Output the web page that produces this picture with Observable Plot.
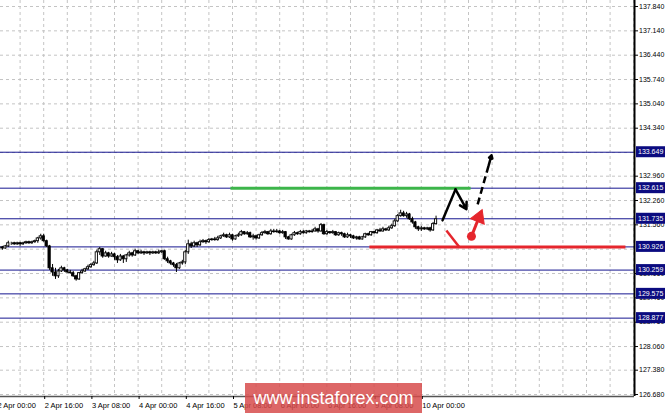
<!DOCTYPE html>
<html><head><meta charset="utf-8">
<script src="https://cdn.jsdelivr.net/npm/d3@7"></script>
<script src="https://cdn.jsdelivr.net/npm/@observablehq/plot@0.6"></script>
<style>
html,body{margin:0;padding:0;background:#fff;}
#wrap{position:relative;width:665px;height:413px;overflow:hidden;background:#fff;}
#wrap svg{position:absolute;left:0;top:0;}
#wm{position:absolute;left:245px;top:383px;width:177px;height:30px;background:rgba(214,74,74,0.84);color:#fff;font:18px "Liberation Sans",Arial,sans-serif;line-height:30px;text-align:center;}
</style></head><body><div id="wrap"><div id="wm">www.instaforex.com</div></div>
<script>
// ---- data (USD/JPY H1, trading-hour index from 2 Apr 00:00) ----
const firstBar = 2;
const opens = [130.91,130.88,130.94,131.03,131.03,131.00,131.03,131.00,131.03,131.06,131.03,131.06,131.09,131.17,131.23,131.09,130.94,130.31,130.19,130.08,130.22,130.31,130.25,130.19,130.17,130.08,129.99,130.17,130.22,130.28,130.34,130.40,130.45,130.77,130.86,130.65,130.74,130.65,130.71,130.63,130.54,130.65,130.57,130.68,130.74,130.68,130.80,130.74,130.77,130.74,130.77,130.74,130.77,130.74,130.77,130.80,130.57,130.51,130.45,130.40,130.31,130.45,130.48,130.77,131.00,130.94,131.03,130.97,131.06,131.09,131.06,131.12,131.14,131.12,131.17,131.23,131.26,131.20,131.26,131.14,131.23,131.26,131.35,131.29,131.32,131.20,131.23,131.17,131.26,131.32,131.35,131.29,131.37,131.35,131.37,131.32,131.35,131.20,131.14,131.26,131.32,131.29,131.35,131.32,131.37,131.35,131.37,131.43,131.37,131.55,131.29,131.35,131.32,131.35,131.26,131.32,131.29,131.20,131.26,131.23,131.17,131.20,131.14,131.20,131.29,131.26,131.35,131.32,131.40,131.37,131.43,131.40,131.46,131.52,131.66,131.81,131.89,131.81,131.86,131.72,131.63,131.49,131.43,131.46,131.43,131.46,131.40,131.58];
const highs = [130.94,130.97,131.09,131.06,131.06,131.06,131.06,131.06,131.09,131.09,131.09,131.12,131.20,131.29,131.29,131.12,130.97,130.42,130.31,130.28,130.37,130.34,130.28,130.25,130.22,130.11,130.19,130.28,130.31,130.40,130.45,130.51,130.83,130.91,130.88,130.80,130.77,130.77,130.74,130.68,130.71,130.68,130.71,130.80,130.77,130.86,130.83,130.83,130.80,130.80,130.80,130.80,130.80,130.83,130.83,130.83,130.63,130.54,130.48,130.45,130.48,130.54,130.83,131.12,131.06,131.09,131.06,131.12,131.14,131.12,131.17,131.17,131.20,131.23,131.26,131.32,131.29,131.32,131.29,131.26,131.32,131.40,131.37,131.37,131.35,131.29,131.26,131.29,131.37,131.40,131.37,131.43,131.43,131.43,131.40,131.40,131.37,131.23,131.29,131.37,131.35,131.40,131.40,131.40,131.40,131.43,131.49,131.46,131.60,131.58,131.40,131.37,131.40,131.37,131.35,131.35,131.32,131.32,131.29,131.26,131.23,131.23,131.23,131.32,131.32,131.37,131.37,131.43,131.46,131.49,131.46,131.52,131.58,131.72,131.86,131.98,131.95,131.92,131.89,131.78,131.66,131.52,131.52,131.49,131.49,131.49,131.63,131.81];
const lows = [130.83,130.86,130.91,130.97,130.97,130.97,130.94,130.97,131.00,131.00,131.00,131.03,131.03,131.12,131.06,130.91,130.25,130.08,129.99,130.02,130.19,130.19,130.17,130.14,130.05,129.94,129.96,130.14,130.19,130.25,130.31,130.37,130.42,130.68,130.60,130.63,130.60,130.63,130.54,130.45,130.51,130.45,130.48,130.63,130.63,130.65,130.71,130.71,130.68,130.71,130.68,130.71,130.71,130.71,130.74,130.54,130.45,130.40,130.34,130.19,130.28,130.40,130.42,130.71,130.88,130.91,130.91,130.94,131.03,131.00,131.03,131.09,131.09,131.09,131.14,131.20,131.17,131.17,131.09,131.12,131.20,131.23,131.26,131.26,131.17,131.12,131.12,131.14,131.23,131.29,131.26,131.26,131.32,131.32,131.29,131.29,131.14,131.12,131.12,131.23,131.26,131.26,131.29,131.29,131.32,131.32,131.35,131.32,131.35,131.26,131.26,131.29,131.29,131.23,131.23,131.23,131.17,131.17,131.17,131.14,131.12,131.12,131.12,131.17,131.23,131.23,131.29,131.29,131.35,131.35,131.37,131.37,131.43,131.49,131.63,131.78,131.78,131.75,131.69,131.58,131.43,131.37,131.37,131.40,131.40,131.35,131.37,131.55];
const closes = [130.88,130.94,131.03,131.03,131.00,131.03,131.00,131.03,131.06,131.03,131.06,131.09,131.17,131.23,131.09,130.94,130.31,130.19,130.08,130.22,130.31,130.25,130.19,130.17,130.08,129.99,130.17,130.22,130.28,130.34,130.40,130.45,130.77,130.86,130.65,130.74,130.65,130.71,130.63,130.54,130.65,130.57,130.68,130.74,130.68,130.80,130.74,130.77,130.74,130.77,130.74,130.77,130.74,130.77,130.80,130.57,130.51,130.45,130.40,130.31,130.45,130.48,130.77,131.00,130.94,131.03,130.97,131.06,131.09,131.06,131.12,131.14,131.12,131.17,131.23,131.26,131.20,131.26,131.14,131.23,131.26,131.35,131.29,131.32,131.20,131.23,131.17,131.26,131.32,131.35,131.29,131.37,131.35,131.37,131.32,131.35,131.20,131.14,131.26,131.32,131.29,131.35,131.32,131.37,131.35,131.37,131.43,131.37,131.55,131.29,131.35,131.32,131.35,131.26,131.32,131.29,131.20,131.26,131.23,131.17,131.20,131.14,131.20,131.29,131.26,131.35,131.32,131.40,131.37,131.43,131.40,131.46,131.52,131.66,131.81,131.89,131.81,131.86,131.72,131.63,131.49,131.43,131.46,131.43,131.46,131.40,131.58,131.72];

const xTickHours  = [0,16,32,48,64,80,96,112,128,144];
const xTickLabels = ["2 Apr 00:00","2 Apr 16:00","3 Apr 08:00","4 Apr 00:00","4 Apr 16:00","5 Apr 08:00","6 Apr 00:00","6 Apr 16:00","9 Apr 08:00","10 Apr 00:00"];
const xGridHours  = [0,8,16,24,32,40,48,56,64,72,80,88,96,104,112,120,128,136,144,152,160,168,176,184,192,200,208,216];
const yGridValues = [137.840,137.140,136.440,135.740,135.040,134.340,133.640,132.960,132.260,131.560,130.860,130.160,129.460,128.760,128.060,127.380,126.680];
const yTickLabels = [137.840,137.140,136.440,135.740,135.040,134.340,132.960,132.260,131.560,130.160,129.460,128.760,128.060,127.380,126.680];
const levels      = [133.649,132.615,131.735,130.926,130.259,129.575,128.877];
const resistanceLevel = 132.615, resistanceFrom = 79.3, resistanceTo = 160.7;
const supportLevel = 130.926, supportFrom = 126.4, supportTo = 213.2;
// forecast sketch (hour index, price)
const upPath      = [{h:151.2,p:131.69},{h:155.6,p:132.58},{h:159.3,p:132.01}];
const dashedUp    = [{h:163.1,p:132.15},{h:167.8,p:133.56}];
const redStroke   = [{h:152.5,p:131.40},{h:157.0,p:130.91}];
const redDot      = {h:161.0,p:131.23};
const redArrowTip = {h:164.1,p:131.89};

const xDomain = [1.356, 216.27];
const yDomain = [126.623, 138.013];

const bars = opens.map((o,k)=>({h:firstBar+k, open:o, high:highs[k], low:lows[k], close:closes[k]}));
const labelByHour = new Map(xTickHours.map((h,i)=>[h,xTickLabels[i]]));
const font = "'Liberation Sans', Arial, sans-serif";
const navy = "#161690";
const lerp = (a,b,t)=>({h:a.h+(b.h-a.h)*t, p:a.p+(b.p-a.p)*t});
const dashMid = lerp(dashedUp[0], dashedUp[1], 0.8);
const redShaftEnd = lerp(redDot, redArrowTip, 0.7);
const redHead = lerp(redDot, redArrowTip, 0.82);

const svg = Plot.plot({
  width: 665, height: 413,
  marginTop: 0, marginLeft: 0, marginRight: 31, marginBottom: 17,
  style: {background: "transparent", fontFamily: font, overflow: "visible"},
  x: {domain: xDomain, axis: null},
  y: {domain: yDomain, axis: null},
  marks: [
    Plot.gridY(yGridValues, {stroke: "#c4c4c4", strokeOpacity: 1, strokeDasharray: "3,3"}),
    Plot.gridX(xGridHours, {stroke: "#c4c4c4", strokeOpacity: 1, strokeDasharray: "3,3"}),
    Plot.ruleY(levels, {stroke: navy, strokeWidth: 1}),
    Plot.link([{a:resistanceFrom,b:resistanceTo,y:resistanceLevel}], {x1:"a", x2:"b", y1:"y", y2:"y", stroke:"#3cb54a", strokeWidth:3}),
    Plot.link([{a:supportFrom,b:supportTo,y:supportLevel}], {x1:"a", x2:"b", y1:"y", y2:"y", stroke:"#e5262d", strokeWidth:3}),
    Plot.ruleX(bars, {x:"h", y1:"low", y2:"high", stroke:"#000", strokeWidth:1}),
    Plot.rect(bars, {x1: d=>d.h-0.38, x2: d=>d.h+0.38, y1:"open", y2:"close",
      fill: d => d.close >= d.open ? "#fff" : "#000", stroke:"#000", strokeWidth:0.9}),
    // forecast sketch
    Plot.line(upPath.slice(0,2), {x:"h", y:"p", stroke:"#000", strokeWidth:2.5}),
    Plot.arrow([upPath], {x1:d=>d[1].h, y1:d=>d[1].p, x2:d=>d[2].h, y2:d=>d[2].p, stroke:"#000", strokeWidth:2.5, headLength:10}),
    Plot.link([dashedUp], {x1:d=>d[0].h, y1:d=>d[0].p, x2:()=>dashMid.h, y2:()=>dashMid.p, stroke:"#000", strokeWidth:2.5, strokeDasharray:"7,4"}),
    Plot.arrow([dashedUp], {x1:()=>dashMid.h, y1:()=>dashMid.p, x2:d=>d[1].h, y2:d=>d[1].p, stroke:"#000", strokeWidth:2.5, headLength:10}),
    Plot.link([redStroke], {x1:d=>d[0].h, y1:d=>d[0].p, x2:d=>d[1].h, y2:d=>d[1].p, stroke:"#e5262d", strokeWidth:2.5}),
    Plot.link([redDot], {x1:"h", y1:"p", x2:()=>redShaftEnd.h, y2:()=>redShaftEnd.p, stroke:"#e5262d", strokeWidth:3}),
    Plot.dot([redHead], {x:"h", y:"p", symbol:"triangle", r:5.5, rotate:22, fill:"#e5262d", stroke:"#e5262d", strokeWidth:1}),
    Plot.dot([redDot], {x:"h", y:"p", r:4.5, fill:"#e5262d"}),
    // axes
    Plot.ruleX([xDomain[1]], {stroke:"#000", strokeWidth:2}),
    Plot.ruleY([yDomain[0]], {stroke:"#555", strokeWidth:1.5}),
    Plot.axisY(yTickLabels, {anchor:"right", tickSize:3, tickPadding:1.5, tickFormat: d=>d.toFixed(3), fontSize:7, fontFamily:font, fill:"#000"}),
    Plot.rect(levels, {x1:()=>xDomain[1], x2:()=>xDomain[1], y1:d=>d, y2:d=>d, insetLeft:2, insetRight:-31, insetTop:-5.5, insetBottom:-5.5, fill:"#0b0b80"}),
    Plot.text(levels, {x:()=>xDomain[1], y:d=>d, text:d=>d.toFixed(3), dx:3.5, textAnchor:"start", fill:"#fff", fontSize:7, fontFamily:font}),
    Plot.axisX(xTickHours, {anchor:"bottom", tickSize:3, tickPadding:3, tickFormat:d=>labelByHour.get(d), textAnchor:"start", dx:1, fontSize:7.5, fontFamily:font, fill:"#000"})
  ]
});
const wrap = document.getElementById("wrap");
wrap.insertBefore(svg, document.getElementById("wm"));
</script></body></html>
